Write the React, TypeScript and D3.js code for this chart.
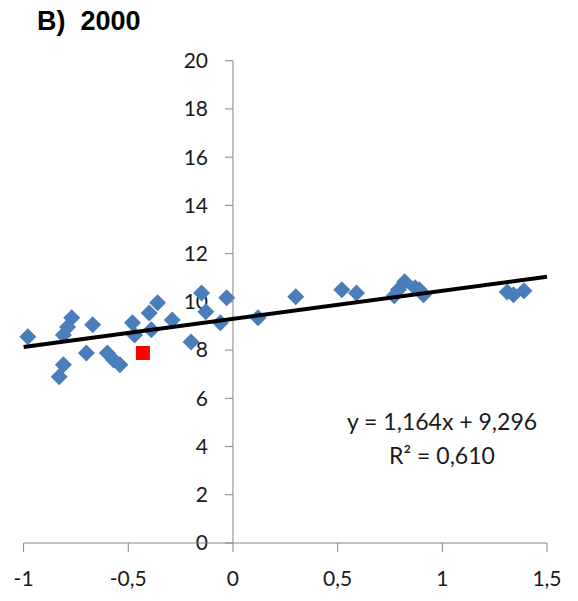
import React from 'react';
import * as d3 from 'd3';

// scatter points (x = index, y = value)
const pointsX = [
  -0.98, -0.83, -0.81, -0.81, -0.79, -0.77, -0.67, -0.70, -0.60, -0.57, -0.54,
  -0.48, -0.47, -0.40, -0.36, -0.39, -0.29, -0.20, -0.15, -0.13, -0.06, -0.03,
  0.12, 0.30, 0.52, 0.59, 0.77, 0.79, 0.82, 0.87, 0.89, 0.91, 1.31, 1.34, 1.39,
];
const pointsY = [
  8.55, 6.89, 7.39, 8.63, 8.96, 9.34, 9.05, 7.88, 7.88, 7.59, 7.39,
  9.13, 8.63, 9.54, 9.96, 8.84, 9.25, 8.34, 10.37, 9.59, 9.13, 10.17,
  9.34, 10.21, 10.50, 10.37, 10.25, 10.50, 10.83, 10.58, 10.50, 10.29, 10.41, 10.29, 10.46,
];
const highlight = { x: -0.43, y: 7.88 };

const slope = 1.164;
const intercept = 9.296;
const xTicks = [-1, -0.5, 0, 0.5, 1, 1.5];
const yTicks = [0, 2, 4, 6, 8, 10, 12, 14, 16, 18, 20];
const equationLines = ['y = 1,164x + 9,296', 'R² = 0,610'];
const title = 'B)  2000';

const W = 578;
const H = 601;
const font = 'Lato, "Open Sans", sans-serif';

const App = () => {
  const x = d3.scaleLinear().domain([-1, 1.5]).range([23.6, 547]);
  const y = d3.scaleLinear().domain([0, 20]).range([543, 60.7]);
  const fmt = (v: number) => String(v).replace('.', ',');

  const diamond = (cx: number, cy: number) => {
    const r = 8.5;
    return `M${cx},${cy - r}L${cx + r},${cy}L${cx},${cy + r}L${cx - r},${cy}Z`;
  };

  const axisColor = '#868686';

  return (
    <svg width={W} height={H} style={{ position: 'absolute', left: 0, top: 0, background: '#fff' }}>
      <text x={37} y={30} fontFamily='"Liberation Sans", Arial, sans-serif' fontWeight="bold" fontSize={27} fill="#000" style={{ whiteSpace: 'pre' }}>
        {title}
      </text>

      {/* y axis */}
      <line x1={x(0)} x2={x(0)} y1={y(20)} y2={y(0)} stroke={axisColor} strokeWidth={1} />
      {yTicks.map(t => (
        <g key={'y' + t}>
          <line x1={x(0) - 8} x2={x(0)} y1={y(t)} y2={y(t)} stroke={axisColor} strokeWidth={1} />
          <text x={208} y={y(t)} dy="0.35em" textAnchor="end" fontFamily={font} fontSize={21} fill="#1a1a1a">
            {t}
          </text>
        </g>
      ))}

      {/* x axis */}
      <line x1={x(-1)} x2={x(1.5)} y1={y(0)} y2={y(0)} stroke={axisColor} strokeWidth={1} />
      {xTicks.map(t => (
        <g key={'x' + t}>
          <line x1={x(t)} x2={x(t)} y1={y(0)} y2={y(0) + 9} stroke={axisColor} strokeWidth={1} />
          <text x={x(t)} y={579} dy="0.35em" textAnchor="middle" fontFamily={font} fontSize={21} fill="#1a1a1a">
            {fmt(t)}
          </text>
        </g>
      ))}

      {/* points */}
      {pointsX.map((px, i) => (
        <path key={'p' + i} d={diamond(x(px), y(pointsY[i]))} fill="#4a7ebb" />
      ))}
      <rect x={x(highlight.x) - 7} y={y(highlight.y) - 7} width={14} height={14} fill="#ff0000" />

      {/* trend line */}
      <line
        x1={x(-1)} y1={y(slope * -1 + intercept)}
        x2={x(1.5)} y2={y(slope * 1.5 + intercept)}
        stroke="#000" strokeWidth={4}
      />

      {/* equation */}
      {equationLines.map((l, i) => (
        <text key={'e' + i} x={442} y={430 + i * 34} textAnchor="middle" fontFamily={font} fontSize={23} fill="#1a1a1a">
          {l}
        </text>
      ))}
    </svg>
  );
};

export default App;
